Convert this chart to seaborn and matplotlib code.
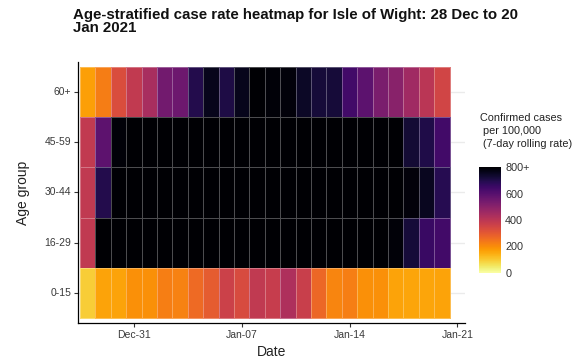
import numpy as np
import pandas as pd
import matplotlib
matplotlib.use("Agg")
import matplotlib.pyplot as plt
import seaborn as sns

# ---- data ----
dates = pd.date_range("2020-12-28", "2021-01-20", freq="D")
age_groups = ["60+", "45-59", "30-44", "16-29", "0-15"]

rate_60plus = [170, 230, 330, 385, 440, 545, 555, 695, 760, 705, 760, 850,
               790, 785, 745, 720, 720, 640, 590, 530, 500, 455, 400, 350]
rate_45_59 = [385, 585, 790, 850, 850, 850, 850, 850, 850, 850, 850, 850,
              850, 850, 850, 850, 850, 850, 850, 850, 850, 725, 700, 640]
rate_30_44 = [390, 695, 850, 850, 850, 850, 850, 850, 850, 850, 850, 850,
              850, 850, 850, 850, 850, 850, 850, 850, 850, 785, 755, 690]
rate_16_29 = [390, 850, 850, 850, 850, 850, 850, 850, 850, 850, 850, 850,
              850, 850, 850, 850, 850, 850, 850, 850, 790, 720, 655, 640]
rate_0_15 = [95, 165, 165, 195, 195, 225, 220, 265, 295, 365, 335, 390,
             375, 425, 370, 270, 215, 225, 195, 195, 165, 160, 160, 165]

tick_dates = pd.to_datetime(["2020-12-31", "2021-01-07", "2021-01-14", "2021-01-21"])
tick_labels = ["Dec-31", "Jan-07", "Jan-14", "Jan-21"]
cbar_ticks = [0, 200, 400, 600, 800]
cbar_labels = ["0", "200", "400", "600", "800+"]

df = pd.DataFrame([rate_60plus, rate_45_59, rate_30_44, rate_16_29, rate_0_15],
                  index=age_groups, columns=dates)
df = df.clip(upper=800)

# ---- plot ----
sns.set_style("white")
plt.rcParams["font.family"] = ["Liberation Sans", "DejaVu Sans"]

fig = plt.figure(figsize=(5.85, 3.62), dpi=100)
W, H = 585, 362
ax = fig.add_axes([78 / W, 1 - 323 / H, (465 - 78) / W, (323 - 62) / H])
cax = fig.add_axes([479 / W, 1 - 273 / H, 22 / W, (273 - 167) / H])

# background gridlines at row centres
for i in range(len(age_groups)):
    ax.axhline(i + 0.5, color="#ebebeb", lw=1.0, zorder=0)

sns.heatmap(df, ax=ax, cmap="inferno_r", vmin=0, vmax=800,
            linewidths=0.6, linecolor=(1, 1, 1, 0.3),
            cbar_ax=cax, xticklabels=False, yticklabels=age_groups,
            cbar_kws={"ticks": cbar_ticks})

ax.set_xlim(-0.13, 25.0)
ax.set_ylim(5.1, -0.1)

xpos = [(d - dates[0]).days + 0.5 for d in tick_dates]
ax.set_xticks(xpos)
ax.set_xticklabels(tick_labels)
ax.set_yticks(np.arange(len(age_groups)) + 0.5)
ax.set_yticklabels(age_groups, rotation=0)

for s in ["top", "right"]:
    ax.spines[s].set_visible(False)
for s in ["left", "bottom"]:
    ax.spines[s].set_visible(True)
    ax.spines[s].set_color("black")
    ax.spines[s].set_linewidth(0.9)

ax.tick_params(axis="both", which="both", length=3, width=0.8, color="#333333",
               labelsize=7.5, labelcolor="#3a3a3a", pad=2, left=True, bottom=True)
ax.set_xlabel("Date", fontsize=10, color="#222222", labelpad=4)
ax.set_ylabel("Age group", fontsize=10, color="#222222", labelpad=10)

fig.text(73 / W, 1 - 8 / H,
         "Age-stratified case rate heatmap for Isle of Wight: 28 Dec to 20\nJan 2021",
         fontsize=10.8, fontweight="bold", va="top", ha="left", linespacing=0.9,
         color="#111111")

# colorbar styling
cax.set_yticklabels(cbar_labels)
cax.tick_params(axis="y", length=4, width=0.6, color="white", direction="in",
                labelsize=7.8, labelcolor="#333333", pad=3)
for s in cax.spines.values():
    s.set_visible(False)
fig.text(480 / W, 1 - 113 / H, "Confirmed cases\n per 100,000\n (7-day rolling rate)",
         fontsize=7.8, va="top", ha="left", color="#222222", linespacing=1.35)

fig.savefig("out.png", dpi=100)
